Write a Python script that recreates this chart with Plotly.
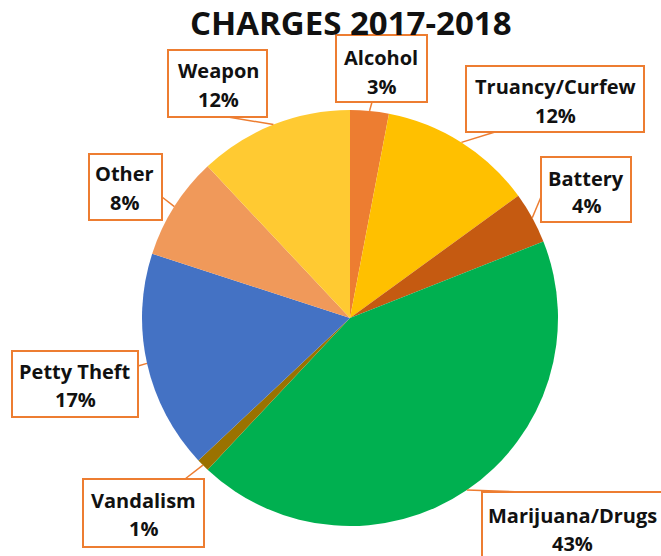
import math
import plotly.graph_objects as go

# ---- data ----
labels = ["Alcohol", "Truancy/Curfew", "Battery", "Marijuana/Drugs",
          "Vandalism", "Petty Theft", "Other", "Weapon"]
values = [3, 12, 4, 43, 1, 17, 8, 12]
colors = ["#ED7D31", "#FFC000", "#C55A11", "#00B050",
          "#9A7200", "#4472C4", "#F0995A", "#FFCA32"]
title_text = "CHARGES 2017-2018"

# ---- layout helpers (pixel geometry) ----
W, H = 661, 556
CX, CY, R = 350, 318, 208
BORDER = "#ED7D31"
FONT = "Open Sans"


def px(x):
    return x / W


def py(y):
    return 1 - y / H


# callout boxes: (x0, y0, x1, y1) in pixels
boxes = [
    (336, 35, 427, 102),
    (466, 66, 644, 132),
    (541, 157, 631, 222),
    (482, 492, 668, 570),
    (83, 479, 204, 547),
    (12, 351, 138, 417),
    (89, 154, 162, 220),
    (168, 50, 267, 117),
]
# text line centres (centre x, name y, pct y)
text_pos = [
    (381, 57, 86),
    (555, 86, 115),
    (586, 178, 206),
    (572, 515, 543),
    (143, 500, 528),
    (75, 371, 399),
    (125, 173, 203),
    (218, 71, 99),
]
# leader anchors on box (pixels)
anchors = [
    (372, 102), (495, 132), (541, 197), (522, 492),
    (185, 479), (138, 366), (162, 197), (228, 117),
]

fig = go.Figure(go.Pie(
    labels=labels, values=values, sort=False, direction="clockwise",
    rotation=0, textinfo="none", hoverinfo="label+percent",
    marker=dict(colors=colors, line=dict(width=0)),
    domain=dict(x=[px(CX - R), px(CX + R)], y=[py(CY + R), py(CY - R)]),
    showlegend=False,
))

total = sum(values)
shapes = []
annotations = []
cum = 0
for i, (lab, v) in enumerate(zip(labels, values)):
    mid = (cum + v / 2) / total * 2 * math.pi
    cum += v
    ex = CX + R * math.sin(mid)
    ey = CY - R * math.cos(mid)
    ax, ay = anchors[i]
    shapes.append(dict(type="line", xref="paper", yref="paper",
                       x0=px(ax), y0=py(ay), x1=px(ex), y1=py(ey),
                       line=dict(color=BORDER, width=1.5)))
    x0, y0, x1, y1 = boxes[i]
    shapes.append(dict(type="rect", xref="paper", yref="paper",
                       x0=px(x0), y0=py(y1), x1=px(x1), y1=py(y0),
                       fillcolor="white", line=dict(color=BORDER, width=2)))
    tx, ny, pyy = text_pos[i]
    pct = f"{round(v / total * 100)}%"
    annotations.append(dict(text=f"<b>{lab}</b>", x=px(tx), y=py(ny),
                            xref="paper", yref="paper", showarrow=False,
                            xanchor="center", yanchor="middle",
                            font=dict(family=FONT, size=20, color="#111111")))
    annotations.append(dict(text=f"<b>{pct}</b>", x=px(tx), y=py(pyy),
                            xref="paper", yref="paper", showarrow=False,
                            xanchor="center", yanchor="middle",
                            font=dict(family=FONT, size=20, color="#111111")))

annotations.append(dict(text=f"<b>{title_text}</b>", x=px(351), y=py(23),
                        xref="paper", yref="paper", showarrow=False,
                        xanchor="center", yanchor="middle",
                        font=dict(family=FONT, size=33, color="#111111")))

fig.update_layout(
    width=W, height=H, margin=dict(l=0, r=0, t=0, b=0),
    paper_bgcolor="white", plot_bgcolor="white",
    shapes=shapes, annotations=annotations,
)

fig.write_html("out.html")
